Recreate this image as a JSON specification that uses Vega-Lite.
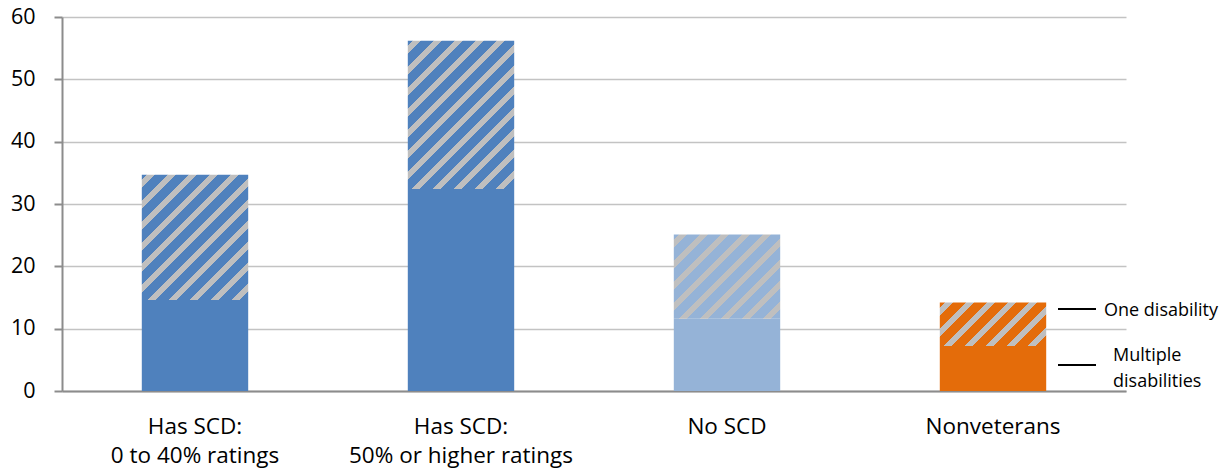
{
  "$schema": "https://vega.github.io/schema/vega-lite/v6.json",
  "width": 1064,
  "height": 374,
  "autosize": "none",
  "padding": {"left": 62, "top": 17, "right": 102, "bottom": 83},
  "background": "#ffffff",
  "config": {
    "view": {"stroke": null},
    "font": "Open Sans",
    "axis": {"labelFont": "Open Sans", "labelColor": "#000000", "labelLimit": 400}
  },
  "layer": [
    {
      "data": {
        "values": [
          {"group": "Has SCD: 0 to 40% ratings", "kind": "Multiple disabilities", "value": 14.6},
          {"group": "Has SCD: 0 to 40% ratings", "kind": "One disability", "value": 20.1},
          {"group": "Has SCD: 50% or higher ratings", "kind": "Multiple disabilities", "value": 32.4},
          {"group": "Has SCD: 50% or higher ratings", "kind": "One disability", "value": 23.8},
          {"group": "No SCD", "kind": "Multiple disabilities", "value": 11.6},
          {"group": "No SCD", "kind": "One disability", "value": 13.5},
          {"group": "Nonveterans", "kind": "Multiple disabilities", "value": 7.2},
          {"group": "Nonveterans", "kind": "One disability", "value": 7.0}
        ]
      },
      "transform": [
        {"stack": "value", "groupby": ["group"], "sort": [{"field": "kind", "order": "ascending"}], "as": ["v0", "v1"]}
      ],
      "encoding": {
        "x": {
          "field": "group",
          "type": "nominal",
          "sort": null,
          "scale": {"paddingInner": 0.6, "paddingOuter": 0.3},
          "axis": {
            "title": null,
            "labelAngle": 0,
            "ticks": false,
            "domainColor": "#8C8C8C",
            "domainWidth": 2,
            "labelFontSize": 22.5,
            "labelPadding": 24,
            "labelLineHeight": 29,
            "labelExpr": "split(replace(datum.label, ': ', ':|'), '|')"
          }
        },
        "y": {
          "field": "v0",
          "type": "quantitative",
          "scale": {"domain": [0, 60], "nice": false},
          "axis": {
            "title": null,
            "values": [0, 10, 20, 30, 40, 50, 60],
            "domainColor": "#8C8C8C",
            "domainWidth": 2,
            "tickColor": "#8C8C8C",
            "tickWidth": 2,
            "tickSize": 8,
            "labelFontSize": 21.5,
            "labelPadding": 19,
            "gridColor": "#C3C3C3",
            "gridWidth": 1.6
          }
        },
        "y2": {"field": "v1"}
      },
      "layer": [
        {
          "transform": [{"filter": "datum.kind === 'Multiple disabilities'"}],
          "mark": {"type": "bar"},
          "encoding": {
            "color": {
              "field": "group",
              "type": "nominal",
              "legend": null,
              "scale": {
                "domain": ["Has SCD: 0 to 40% ratings", "Has SCD: 50% or higher ratings", "No SCD", "Nonveterans"],
                "range": ["#4F81BD", "#4F81BD", "#95B3D7", "#E46C0A"]
              }
            }
          }
        },
        {
          "transform": [{"filter": "datum.kind === 'One disability' && datum.group === 'Has SCD: 0 to 40% ratings'"}],
          "mark": {
            "type": "bar",
            "fill": {
              "gradient": "linear", "x1": 0, "y1": 0, "x2": 0.9124, "y2": 1.0745,
              "stops": [
                {"offset": 0, "color": "#4F81BD"},
                {"offset": 0.0216, "color": "#4F81BD"}, {"offset": 0.0216, "color": "#BFBFBF"}, {"offset": 0.0561, "color": "#BFBFBF"}, {"offset": 0.0561, "color": "#4F81BD"},
                {"offset": 0.1122, "color": "#4F81BD"}, {"offset": 0.1122, "color": "#BFBFBF"}, {"offset": 0.1467, "color": "#BFBFBF"}, {"offset": 0.1467, "color": "#4F81BD"},
                {"offset": 0.2028, "color": "#4F81BD"}, {"offset": 0.2028, "color": "#BFBFBF"}, {"offset": 0.2374, "color": "#BFBFBF"}, {"offset": 0.2374, "color": "#4F81BD"},
                {"offset": 0.2935, "color": "#4F81BD"}, {"offset": 0.2935, "color": "#BFBFBF"}, {"offset": 0.3280, "color": "#BFBFBF"}, {"offset": 0.3280, "color": "#4F81BD"},
                {"offset": 0.3841, "color": "#4F81BD"}, {"offset": 0.3841, "color": "#BFBFBF"}, {"offset": 0.4186, "color": "#BFBFBF"}, {"offset": 0.4186, "color": "#4F81BD"},
                {"offset": 0.4747, "color": "#4F81BD"}, {"offset": 0.4747, "color": "#BFBFBF"}, {"offset": 0.5093, "color": "#BFBFBF"}, {"offset": 0.5093, "color": "#4F81BD"},
                {"offset": 0.5654, "color": "#4F81BD"}, {"offset": 0.5654, "color": "#BFBFBF"}, {"offset": 0.5999, "color": "#BFBFBF"}, {"offset": 0.5999, "color": "#4F81BD"},
                {"offset": 0.6560, "color": "#4F81BD"}, {"offset": 0.6560, "color": "#BFBFBF"}, {"offset": 0.6905, "color": "#BFBFBF"}, {"offset": 0.6905, "color": "#4F81BD"},
                {"offset": 0.7466, "color": "#4F81BD"}, {"offset": 0.7466, "color": "#BFBFBF"}, {"offset": 0.7811, "color": "#BFBFBF"}, {"offset": 0.7811, "color": "#4F81BD"},
                {"offset": 0.8373, "color": "#4F81BD"}, {"offset": 0.8373, "color": "#BFBFBF"}, {"offset": 0.8718, "color": "#BFBFBF"}, {"offset": 0.8718, "color": "#4F81BD"},
                {"offset": 0.9279, "color": "#4F81BD"}, {"offset": 0.9279, "color": "#BFBFBF"}, {"offset": 0.9624, "color": "#BFBFBF"}, {"offset": 0.9624, "color": "#4F81BD"},
                {"offset": 1, "color": "#4F81BD"}
              ]
            }
          }
        },
        {
          "transform": [{"filter": "datum.kind === 'One disability' && datum.group === 'Has SCD: 50% or higher ratings'"}],
          "mark": {
            "type": "bar",
            "fill": {
              "gradient": "linear", "x1": 0, "y1": 0, "x2": 0.8131, "y2": 1.1341,
              "stops": [
                {"offset": 0, "color": "#4F81BD"},
                {"offset": 0.0196, "color": "#4F81BD"}, {"offset": 0.0196, "color": "#BFBFBF"}, {"offset": 0.0510, "color": "#BFBFBF"}, {"offset": 0.0510, "color": "#4F81BD"},
                {"offset": 0.1020, "color": "#4F81BD"}, {"offset": 0.1020, "color": "#BFBFBF"}, {"offset": 0.1334, "color": "#BFBFBF"}, {"offset": 0.1334, "color": "#4F81BD"},
                {"offset": 0.1845, "color": "#4F81BD"}, {"offset": 0.1845, "color": "#BFBFBF"}, {"offset": 0.2159, "color": "#BFBFBF"}, {"offset": 0.2159, "color": "#4F81BD"},
                {"offset": 0.2669, "color": "#4F81BD"}, {"offset": 0.2669, "color": "#BFBFBF"}, {"offset": 0.2983, "color": "#BFBFBF"}, {"offset": 0.2983, "color": "#4F81BD"},
                {"offset": 0.3493, "color": "#4F81BD"}, {"offset": 0.3493, "color": "#BFBFBF"}, {"offset": 0.3807, "color": "#BFBFBF"}, {"offset": 0.3807, "color": "#4F81BD"},
                {"offset": 0.4317, "color": "#4F81BD"}, {"offset": 0.4317, "color": "#BFBFBF"}, {"offset": 0.4631, "color": "#BFBFBF"}, {"offset": 0.4631, "color": "#4F81BD"},
                {"offset": 0.5141, "color": "#4F81BD"}, {"offset": 0.5141, "color": "#BFBFBF"}, {"offset": 0.5455, "color": "#BFBFBF"}, {"offset": 0.5455, "color": "#4F81BD"},
                {"offset": 0.5966, "color": "#4F81BD"}, {"offset": 0.5966, "color": "#BFBFBF"}, {"offset": 0.6280, "color": "#BFBFBF"}, {"offset": 0.6280, "color": "#4F81BD"},
                {"offset": 0.6790, "color": "#4F81BD"}, {"offset": 0.6790, "color": "#BFBFBF"}, {"offset": 0.7104, "color": "#BFBFBF"}, {"offset": 0.7104, "color": "#4F81BD"},
                {"offset": 0.7614, "color": "#4F81BD"}, {"offset": 0.7614, "color": "#BFBFBF"}, {"offset": 0.7928, "color": "#BFBFBF"}, {"offset": 0.7928, "color": "#4F81BD"},
                {"offset": 0.8438, "color": "#4F81BD"}, {"offset": 0.8438, "color": "#BFBFBF"}, {"offset": 0.8752, "color": "#BFBFBF"}, {"offset": 0.8752, "color": "#4F81BD"},
                {"offset": 0.9262, "color": "#4F81BD"}, {"offset": 0.9262, "color": "#BFBFBF"}, {"offset": 0.9576, "color": "#BFBFBF"}, {"offset": 0.9576, "color": "#4F81BD"},
                {"offset": 1, "color": "#4F81BD"}
              ]
            }
          }
        },
        {
          "transform": [{"filter": "datum.kind === 'One disability' && datum.group === 'No SCD'"}],
          "mark": {
            "type": "bar",
            "fill": {
              "gradient": "linear", "x1": 0, "y1": 0, "x2": 1.1015, "y2": 0.8717,
              "stops": [
                {"offset": 0, "color": "#95B3D7"},
                {"offset": 0.0262, "color": "#95B3D7"}, {"offset": 0.0262, "color": "#BFBFBF"}, {"offset": 0.0682, "color": "#BFBFBF"}, {"offset": 0.0682, "color": "#95B3D7"},
                {"offset": 0.1364, "color": "#95B3D7"}, {"offset": 0.1364, "color": "#BFBFBF"}, {"offset": 0.1784, "color": "#BFBFBF"}, {"offset": 0.1784, "color": "#95B3D7"},
                {"offset": 0.2466, "color": "#95B3D7"}, {"offset": 0.2466, "color": "#BFBFBF"}, {"offset": 0.2886, "color": "#BFBFBF"}, {"offset": 0.2886, "color": "#95B3D7"},
                {"offset": 0.3568, "color": "#95B3D7"}, {"offset": 0.3568, "color": "#BFBFBF"}, {"offset": 0.3987, "color": "#BFBFBF"}, {"offset": 0.3987, "color": "#95B3D7"},
                {"offset": 0.4670, "color": "#95B3D7"}, {"offset": 0.4670, "color": "#BFBFBF"}, {"offset": 0.5089, "color": "#BFBFBF"}, {"offset": 0.5089, "color": "#95B3D7"},
                {"offset": 0.5771, "color": "#95B3D7"}, {"offset": 0.5771, "color": "#BFBFBF"}, {"offset": 0.6191, "color": "#BFBFBF"}, {"offset": 0.6191, "color": "#95B3D7"},
                {"offset": 0.6873, "color": "#95B3D7"}, {"offset": 0.6873, "color": "#BFBFBF"}, {"offset": 0.7293, "color": "#BFBFBF"}, {"offset": 0.7293, "color": "#95B3D7"},
                {"offset": 0.7975, "color": "#95B3D7"}, {"offset": 0.7975, "color": "#BFBFBF"}, {"offset": 0.8395, "color": "#BFBFBF"}, {"offset": 0.8395, "color": "#95B3D7"},
                {"offset": 0.9077, "color": "#95B3D7"}, {"offset": 0.9077, "color": "#BFBFBF"}, {"offset": 0.9497, "color": "#BFBFBF"}, {"offset": 0.9497, "color": "#95B3D7"},
                {"offset": 1, "color": "#95B3D7"}
              ]
            }
          }
        },
        {
          "transform": [{"filter": "datum.kind === 'One disability' && datum.group === 'Nonveterans'"}],
          "mark": {
            "type": "bar",
            "fill": {
              "gradient": "linear", "x1": 0, "y1": 0, "x2": 1.2070, "y2": 0.4912,
              "stops": [
                {"offset": 0, "color": "#E46C0A"},
                {"offset": 0.0334, "color": "#E46C0A"}, {"offset": 0.0334, "color": "#BFBFBF"}, {"offset": 0.0868, "color": "#BFBFBF"}, {"offset": 0.0868, "color": "#E46C0A"},
                {"offset": 0.1737, "color": "#E46C0A"}, {"offset": 0.1737, "color": "#BFBFBF"}, {"offset": 0.2271, "color": "#BFBFBF"}, {"offset": 0.2271, "color": "#E46C0A"},
                {"offset": 0.3140, "color": "#E46C0A"}, {"offset": 0.3140, "color": "#BFBFBF"}, {"offset": 0.3674, "color": "#BFBFBF"}, {"offset": 0.3674, "color": "#E46C0A"},
                {"offset": 0.4543, "color": "#E46C0A"}, {"offset": 0.4543, "color": "#BFBFBF"}, {"offset": 0.5077, "color": "#BFBFBF"}, {"offset": 0.5077, "color": "#E46C0A"},
                {"offset": 0.5946, "color": "#E46C0A"}, {"offset": 0.5946, "color": "#BFBFBF"}, {"offset": 0.6480, "color": "#BFBFBF"}, {"offset": 0.6480, "color": "#E46C0A"},
                {"offset": 0.7348, "color": "#E46C0A"}, {"offset": 0.7348, "color": "#BFBFBF"}, {"offset": 0.7883, "color": "#BFBFBF"}, {"offset": 0.7883, "color": "#E46C0A"},
                {"offset": 0.8751, "color": "#E46C0A"}, {"offset": 0.8751, "color": "#BFBFBF"}, {"offset": 0.9286, "color": "#BFBFBF"}, {"offset": 0.9286, "color": "#E46C0A"},
                {"offset": 1, "color": "#E46C0A"}
              ]
            }
          }
        }
      ]
    },
    {
      "data": {"values": [{"key": "legend"}]},
      "layer": [
        {
          "mark": {"type": "tick", "orient": "horizontal", "size": 38, "thickness": 2, "color": "#000000", "opacity": 1, "xOffset": 84},
          "encoding": {
            "x": {"datum": "Nonveterans", "type": "nominal"},
            "y": {"datum": 13.155, "type": "quantitative"}
          }
        },
        {
          "mark": {"type": "text", "text": "One disability", "align": "left", "baseline": "middle", "dx": 111, "fontSize": 18, "font": "Open Sans", "color": "#000000"},
          "encoding": {
            "x": {"datum": "Nonveterans", "type": "nominal"},
            "y": {"datum": 12.8, "type": "quantitative"}
          }
        },
        {
          "mark": {"type": "tick", "orient": "horizontal", "size": 38, "thickness": 2, "color": "#000000", "opacity": 1, "xOffset": 84},
          "encoding": {
            "x": {"datum": "Nonveterans", "type": "nominal"},
            "y": {"datum": 4.171, "type": "quantitative"}
          }
        },
        {
          "mark": {"type": "text", "text": ["Multiple", "disabilities"], "align": "left", "baseline": "middle", "lineHeight": 26, "dx": 120, "fontSize": 18, "font": "Open Sans", "color": "#000000"},
          "encoding": {
            "x": {"datum": "Nonveterans", "type": "nominal"},
            "y": {"datum": 5.55, "type": "quantitative"}
          }
        }
      ]
    }
  ]
}
